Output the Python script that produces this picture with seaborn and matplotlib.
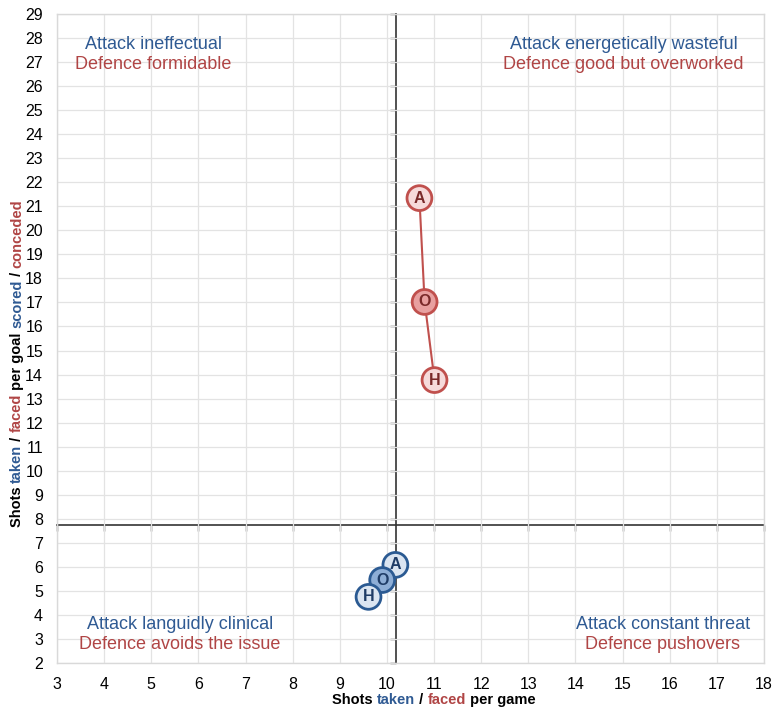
import matplotlib
matplotlib.use("Agg")
import matplotlib.pyplot as plt
import seaborn as sns
import pandas as pd
from matplotlib.transforms import offset_copy

# data
labels = ["A", "O", "H"]
attack_shots = [10.18, 9.90, 9.61]        # shots taken per game
attack_per_goal = [6.08, 5.45, 4.75]      # shots taken per goal scored
defence_shots = [10.69, 10.80, 11.01]     # shots faced per game
defence_per_goal = [21.34, 17.02, 13.77]  # shots faced per goal conceded
avg_shots = 10.2
avg_per_goal = 7.75

x_ticks = list(range(3, 19))
y_ticks = list(range(2, 30))

BLUE = "#2f5a93"
RED = "#b04545"

sns.set_theme(style="white")
plt.rcParams["font.family"] = ["Liberation Sans", "DejaVu Sans"]

attack = pd.DataFrame({"label": labels, "x": attack_shots, "y": attack_per_goal})
defence = pd.DataFrame({"label": labels, "x": defence_shots, "y": defence_per_goal})

fig = plt.figure(figsize=(7.72, 7.08), dpi=100)
ax = fig.add_axes([0.0738, 0.0636, 0.9158, 0.9166])
ax.set_xlim(3, 18)
ax.set_ylim(2, 29)
ax.set_xticks(x_ticks)
ax.set_yticks(y_ticks)
ax.grid(True, color="#e3e3e3", linewidth=0.9)
ax.set_axisbelow(True)
for s in ax.spines.values():
    s.set_color("#d9d9d9")
    s.set_linewidth(1)
ax.tick_params(length=0, labelsize=11.5, colors="black", pad=10)

# quadrant lines with their own ticks
yx = (avg_per_goal - 2) / 27
xx = (avg_shots - 3) / 15
sec_x = ax.secondary_xaxis(yx)
sec_x.set_xticks(x_ticks)
sec_x.tick_params(length=4, width=1, labelbottom=False, labeltop=False, colors="#333333")
sec_x.spines["bottom"].set_color("#333333")
sec_x.spines["bottom"].set_linewidth(1.2)
sec_y = ax.secondary_yaxis(xx)
sec_y.set_yticks(y_ticks)
sec_y.tick_params(length=4, width=1, labelleft=False, labelright=False, colors="#333333")
sec_y.spines["left"].set_color("#333333")
sec_y.spines["left"].set_linewidth(1.2)

# series
sns.lineplot(data=defence, x="x", y="y", sort=False, color="#c0504d", linewidth=1.5, ax=ax, zorder=3)
sns.lineplot(data=attack, x="x", y="y", sort=False, color="#2b5a92", linewidth=1.5, ax=ax, zorder=3)
sns.scatterplot(data=defence, x="x", y="y", hue="label",
                palette={"A": "#f6dada", "O": "#e8a0a0", "H": "#f6dada"},
                edgecolor="#c0504d", linewidth=2, s=320, legend=False, ax=ax, zorder=4)
sns.scatterplot(data=attack, x="x", y="y", hue="label",
                palette={"A": "#dbe5f1", "O": "#8eaed6", "H": "#dbe5f1"},
                edgecolor="#2b5a92", linewidth=2, s=320, legend=False, ax=ax, zorder=4)
for df, c in [(defence, "#7a2a2a"), (attack, "#1f3c66")]:
    for _, r in df.iterrows():
        ax.text(r["x"], r["y"], r["label"], ha="center", va="center", fontsize=11.5,
                fontweight="bold", color=c, zorder=5)
ax.set_xlabel("")
ax.set_ylabel("")

# quadrant captions
captions = [
    (5.04, 27.75, "Attack ineffectual", "Defence formidable"),
    (15.02, 27.75, "Attack energetically wasteful", "Defence good but overworked"),
    (5.61, 3.62, "Attack languidly clinical", "Defence avoids the issue"),
    (15.85, 3.62, "Attack constant threat", "Defence pushovers"),
]
for x, y, a, d in captions:
    ax.text(x, y, a, ha="center", va="center", fontsize=13, color=BLUE)
    ax.text(x, y - 0.86, d, ha="center", va="center", fontsize=13, color=RED)


def colored_text(parts, x, y, rotation=0):
    fig.canvas.draw()
    r = fig.canvas.get_renderer()
    widths = []
    for s, c in parts:
        t = fig.text(0, 0, s, fontsize=10.5, fontweight="bold", rotation=rotation)
        bb = t.get_window_extent(r)
        widths.append(bb.height if rotation else bb.width)
        t.remove()
    total = sum(widths)
    off = -total / 2
    for (s, c), w in zip(parts, widths):
        if rotation:
            tr = offset_copy(fig.transFigure, fig=fig, x=0, y=off, units="dots")
            fig.text(x, y, s, fontsize=10.5, fontweight="bold", color=c, rotation=90,
                     transform=tr, ha="center", va="bottom")
        else:
            tr = offset_copy(fig.transFigure, fig=fig, x=off, y=0, units="dots")
            fig.text(x, y, s, fontsize=10.5, fontweight="bold", color=c,
                     transform=tr, ha="left", va="center")
        off += w


colored_text([("Shots ", "black"), ("taken", BLUE), (" / ", "black"), ("faced", RED),
              (" per game", "black")], 0.562, 0.011)
colored_text([("Shots ", "black"), ("taken", BLUE), (" / ", "black"), ("faced", RED),
              (" per goal ", "black"), ("scored", BLUE), (" / ", "black"),
              ("conceded", RED)], 0.022, 0.487, rotation=90)

fig.savefig("out.png", dpi=100)
